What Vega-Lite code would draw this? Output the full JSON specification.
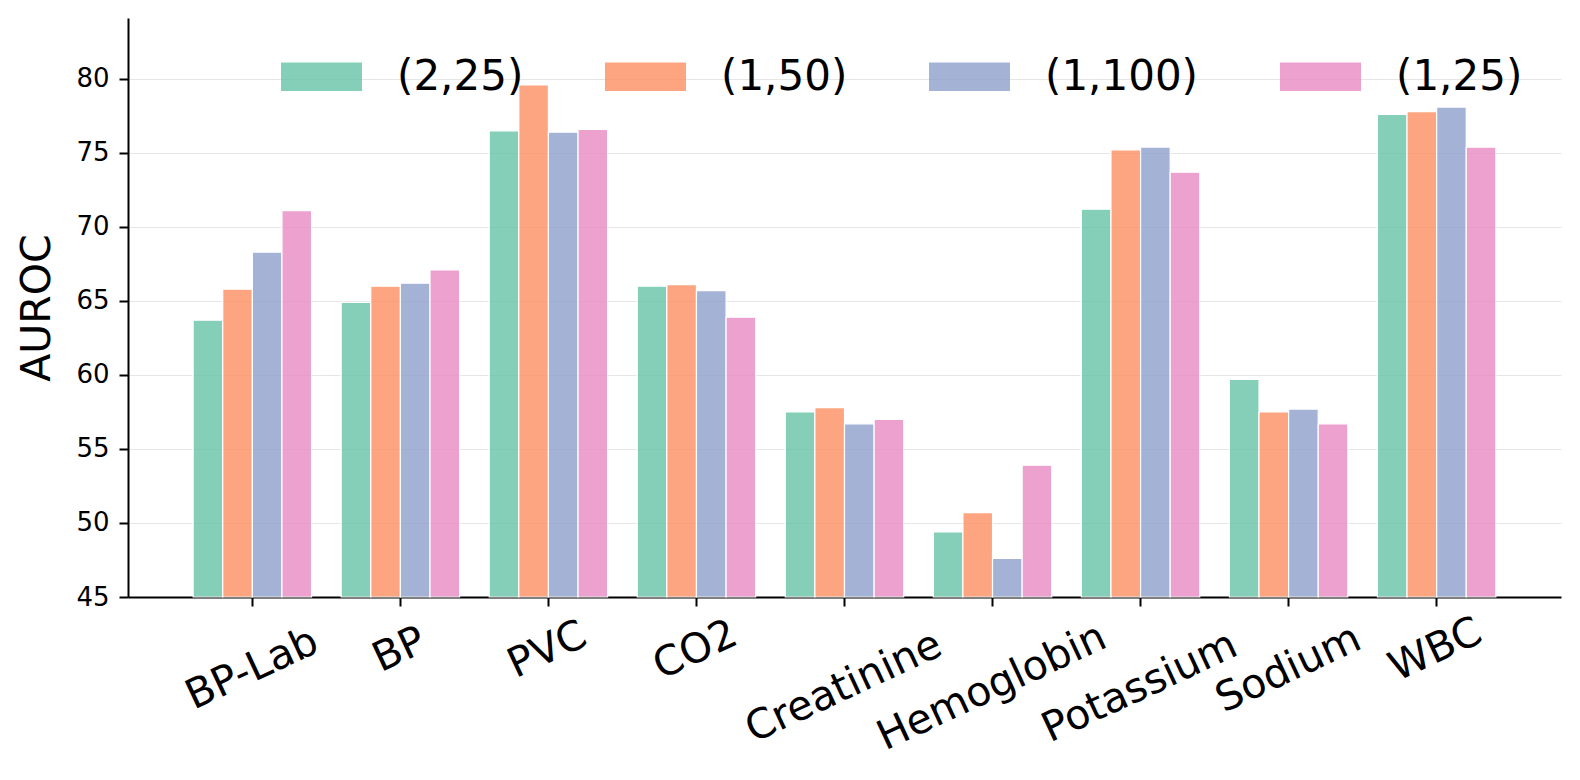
{
  "$schema": "https://vega.github.io/schema/vega-lite/v6.json",
  "autosize": {"type": "none"},
  "padding": {"left": 128, "top": 18, "right": 19, "bottom": 183},
  "width": 1433,
  "height": 579,
  "background": "white",
  "config": {
    "font": "DejaVu Sans",
    "view": {"stroke": null},
    "axis": {"labelFont": "DejaVu Sans", "titleFont": "DejaVu Sans", "labelColor": "black", "titleColor": "black", "titleFontWeight": "normal"}
  },
  "data": {
    "values": [
      {"feature": "BP-Lab", "config": "(2,25)", "auroc": 63.7},
      {"feature": "BP-Lab", "config": "(1,50)", "auroc": 65.8},
      {"feature": "BP-Lab", "config": "(1,100)", "auroc": 68.3},
      {"feature": "BP-Lab", "config": "(1,25)", "auroc": 71.1},
      {"feature": "BP", "config": "(2,25)", "auroc": 64.9},
      {"feature": "BP", "config": "(1,50)", "auroc": 66.0},
      {"feature": "BP", "config": "(1,100)", "auroc": 66.2},
      {"feature": "BP", "config": "(1,25)", "auroc": 67.1},
      {"feature": "PVC", "config": "(2,25)", "auroc": 76.5},
      {"feature": "PVC", "config": "(1,50)", "auroc": 79.6},
      {"feature": "PVC", "config": "(1,100)", "auroc": 76.4},
      {"feature": "PVC", "config": "(1,25)", "auroc": 76.6},
      {"feature": "CO2", "config": "(2,25)", "auroc": 66.0},
      {"feature": "CO2", "config": "(1,50)", "auroc": 66.1},
      {"feature": "CO2", "config": "(1,100)", "auroc": 65.7},
      {"feature": "CO2", "config": "(1,25)", "auroc": 63.9},
      {"feature": "Creatinine", "config": "(2,25)", "auroc": 57.5},
      {"feature": "Creatinine", "config": "(1,50)", "auroc": 57.8},
      {"feature": "Creatinine", "config": "(1,100)", "auroc": 56.7},
      {"feature": "Creatinine", "config": "(1,25)", "auroc": 57.0},
      {"feature": "Hemoglobin", "config": "(2,25)", "auroc": 49.4},
      {"feature": "Hemoglobin", "config": "(1,50)", "auroc": 50.7},
      {"feature": "Hemoglobin", "config": "(1,100)", "auroc": 47.6},
      {"feature": "Hemoglobin", "config": "(1,25)", "auroc": 53.9},
      {"feature": "Potassium", "config": "(2,25)", "auroc": 71.2},
      {"feature": "Potassium", "config": "(1,50)", "auroc": 75.2},
      {"feature": "Potassium", "config": "(1,100)", "auroc": 75.4},
      {"feature": "Potassium", "config": "(1,25)", "auroc": 73.7},
      {"feature": "Sodium", "config": "(2,25)", "auroc": 59.7},
      {"feature": "Sodium", "config": "(1,50)", "auroc": 57.5},
      {"feature": "Sodium", "config": "(1,100)", "auroc": 57.7},
      {"feature": "Sodium", "config": "(1,25)", "auroc": 56.7},
      {"feature": "WBC", "config": "(2,25)", "auroc": 77.6},
      {"feature": "WBC", "config": "(1,50)", "auroc": 77.8},
      {"feature": "WBC", "config": "(1,100)", "auroc": 78.1},
      {"feature": "WBC", "config": "(1,25)", "auroc": 75.4}
    ]
  },
  "mark": {"type": "bar", "fillOpacity": 0.8, "stroke": "white", "strokeWidth": 1.2, "strokeOpacity": 1},
  "encoding": {
    "x": {
      "field": "feature", "type": "nominal", "sort": null,
      "scale": {"paddingInner": 0.2, "paddingOuter": 0.44},
      "axis": {
        "title": null, "labelAngle": -25, "labelAlign": "center",
        "labelBaseline": {
          "condition": [
            {"test": "length(datum.label) >= 9", "value": "top"},
            {"test": "length(datum.label) <= 3", "value": "bottom"}
          ],
          "value": "middle"
        },
        "labelOffset": {
          "condition": [
            {"test": "length(datum.label) >= 9", "value": -9},
            {"test": "length(datum.label) <= 3", "value": 8}
          ],
          "value": 0
        },
        "labelFontSize": 41, "labelPadding": 63, "tickSize": 9, "tickWidth": 2, "tickColor": "black",
        "domainColor": "black", "domainWidth": 2, "grid": false, "labelLimit": 500, "labelOverlap": false
      }
    },
    "xOffset": {"field": "config", "type": "nominal", "sort": ["(2,25)", "(1,50)", "(1,100)", "(1,25)"], "scale": {"paddingInner": 0, "paddingOuter": 0}},
    "y": {
      "field": "auroc", "type": "quantitative",
      "scale": {"domain": [45, 84.12], "nice": false, "zero": false},
      "axis": {
        "title": "AUROC", "titleFontSize": 41, "titlePadding": 17,
        "values": [45, 50, 55, 60, 65, 70, 75, 80],
        "labelFontSize": 26, "labelPadding": 10, "tickSize": 9, "tickWidth": 2, "tickColor": "black",
        "domainColor": "black", "domainWidth": 2,
        "grid": true, "gridColor": "#e6e6e6", "gridWidth": 1
      }
    },
    "y2": {"datum": 45},
    "color": {
      "field": "config", "type": "nominal", "sort": ["(2,25)", "(1,50)", "(1,100)", "(1,25)"],
      "scale": {"range": ["#66c2a5", "#fc8d62", "#8da0cb", "#e78ac3"]},
      "legend": {
        "title": null, "orient": "none", "legendX": 153, "legendY": 18, "direction": "horizontal", "columns": 4,
        "symbolType": "M-1,-0.35L1,-0.35L1,0.35L-1,0.35Z", "symbolSize": 6561, "symbolOpacity": 0.8,
        "symbolStrokeWidth": 0,
        "labelFontSize": 42, "labelOffset": 35, "columnPadding": 81, "labelLimit": 500, "labelColor": "black"
      }
    }
  }
}
